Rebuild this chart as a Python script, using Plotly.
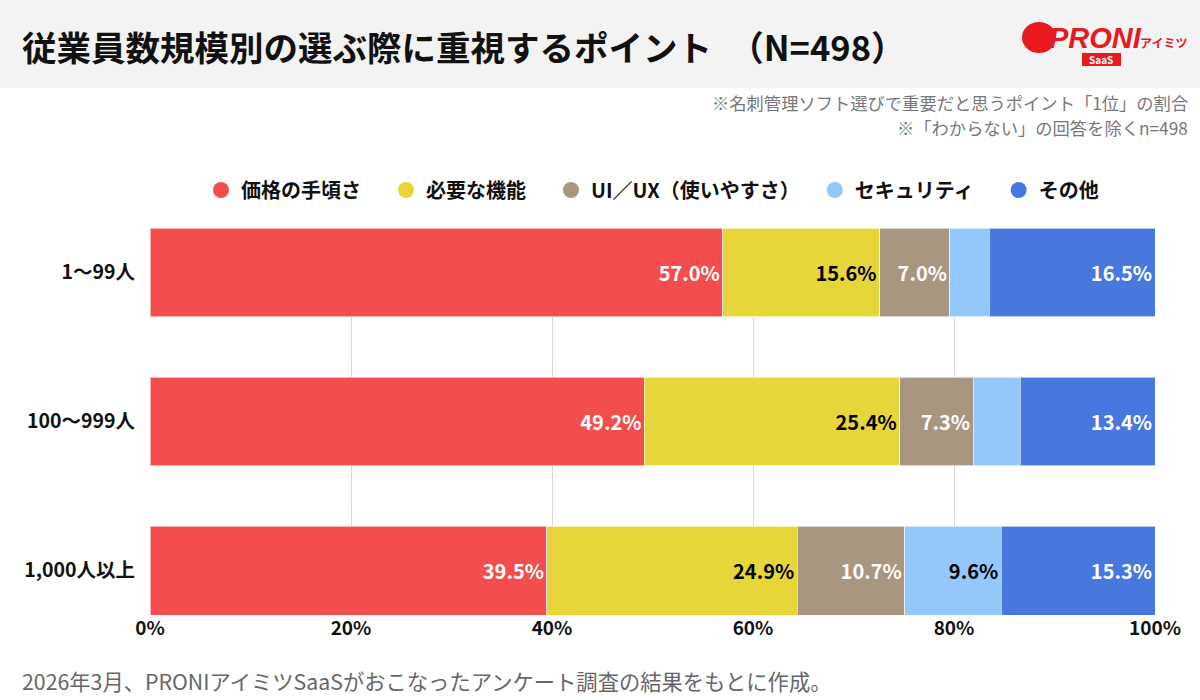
import plotly.graph_objects as go

categories = ["1〜99人", "100〜999人", "1,000人以上"]
series_names = ["価格の手頃さ", "必要な機能", "UI／UX（使いやすさ）", "セキュリティ", "その他"]
price = [57.0, 49.2, 39.5]
function = [15.6, 25.4, 24.9]
uiux = [7.0, 7.3, 10.7]
security = [3.9, 4.7, 9.6]
other = [16.5, 13.4, 15.3]
x_ticks = [0, 20, 40, 60, 80, 100]
x_tick_labels = ["0%", "20%", "40%", "60%", "80%", "100%"]

colors = ["#F44D4E", "#E6D63A", "#A99681", "#94C8FA", "#4878DE"]
label_colors = ["white", "black", "white", "black", "white"]
FONT = "Noto Sans CJK JP"

W, H = 1200, 700
L, R, T, B = 150, 45, 228, 85
PW, PH = W - L - R, H - T - B


def px(x):
    return (x - L) / PW


def py(y):
    return 1 - (y - T) / PH


fig = go.Figure()
all_series = [price, function, uiux, security, other]
n = len(series_names)
for i, (name, vals, col, lc) in enumerate(zip(series_names, all_series, colors, label_colors)):
    fig.add_trace(go.Bar(
        y=categories, x=vals, orientation="h", name=name,
        marker=dict(color=col, line=dict(color="rgba(255,255,255,0.6)", width=1)),
        width=0.595,
        text=[f"{v:.1f}%" if v >= 5 else "" for v in vals],
        textposition="inside", insidetextanchor="end",
        textfont=dict(family=FONT, size=20, color=lc, weight="bold"),
        constraintext="none",
        showlegend=False, hoverinfo="skip",
    ))
    fig.add_trace(go.Scatter(
        x=[None], y=[None], mode="markers",
        name=name + ("\u3000" if i < n - 1 else ""),
        marker=dict(color=col, size=18, symbol="circle"),
        showlegend=True,
    ))

fig.update_layout(
    width=W, height=H,
    margin=dict(l=L, r=R, t=T, b=B),
    barmode="stack",
    paper_bgcolor="white", plot_bgcolor="white",
    font=dict(family=FONT, color="#111"),
    legend=dict(
        orientation="h", x=0.5, xanchor="center", y=py(190), yanchor="middle",
        traceorder="normal",
        font=dict(family=FONT, size=20, color="#111", weight="bold"),
        itemsizing="trace", bgcolor="rgba(0,0,0,0)",
    ),
    xaxis=dict(
        range=[0, 100], tickvals=x_ticks, ticktext=x_tick_labels,
        showgrid=True, gridcolor="#D8D8D8", gridwidth=1, zeroline=False,
        showline=False, ticks="",
        tickfont=dict(family=FONT, size=19, color="#111", weight="bold"),
    ),
    yaxis=dict(
        categoryorder="array", categoryarray=categories,
        range=[2.2975, -0.2975], showgrid=False, zeroline=False, ticks="",
        ticklabelstandoff=14,
        tickfont=dict(family=FONT, size=19.5, color="#111", weight="bold"),
    ),
    bargap=0.4,
)

# header band
fig.add_shape(type="rect", xref="paper", yref="paper",
              x0=px(0), x1=px(W), y0=py(88), y1=py(0),
              fillcolor="#F3F3F3", line=dict(width=0), layer="below")

annotations = [
    dict(text="従業員数規模別の選ぶ際に重視するポイント　（N=498）",
         x=px(20), y=py(46), xanchor="left", yanchor="middle",
         font=dict(family=FONT, size=34.5, color="#111", weight="bold")),
    dict(text="※名刺管理ソフト選びで重要だと思うポイント「1位」の割合",
         x=px(1190), y=py(103), xanchor="right", yanchor="middle",
         font=dict(family=FONT, size=17.3, color="#777")),
    dict(text="※「わからない」の回答を除くn=498",
         x=px(1190), y=py(127), xanchor="right", yanchor="middle",
         font=dict(family=FONT, size=17.3, color="#777")),
    dict(text="2026年3月、PRONIアイミツSaaSがおこなったアンケート調査の結果をもとに作成。",
         x=px(20), y=py(680), xanchor="left", yanchor="middle",
         font=dict(family=FONT, size=21.3, color="#666")),
    # logo
    dict(text="<i>PRONI</i>", x=px(1047), y=py(38), xanchor="left", yanchor="middle",
         font=dict(family="Liberation Sans", size=29, color="#E8191F", weight="bold")),
    dict(text="アイミツ", x=px(1138), y=py(43), xanchor="left", yanchor="middle",
         font=dict(family=FONT, size=12, color="#E8191F", weight="bold")),
    dict(text="SaaS", x=px(1101), y=py(59), xanchor="center", yanchor="middle",
         font=dict(family=FONT, size=10, color="white", weight="bold")),
]
for a in annotations:
    a.update(xref="paper", yref="paper", showarrow=False)
fig.update_layout(annotations=annotations)

fig.add_shape(type="circle", xref="paper", yref="paper",
              x0=px(1022), x1=px(1056), y0=py(53), y1=py(22),
              fillcolor="#E8191F", line=dict(width=0))
fig.add_shape(type="rect", xref="paper", yref="paper",
              x0=px(1082), x1=px(1121), y0=py(66), y1=py(53),
              fillcolor="#E8191F", line=dict(width=0))

fig.write_html("out.html")
